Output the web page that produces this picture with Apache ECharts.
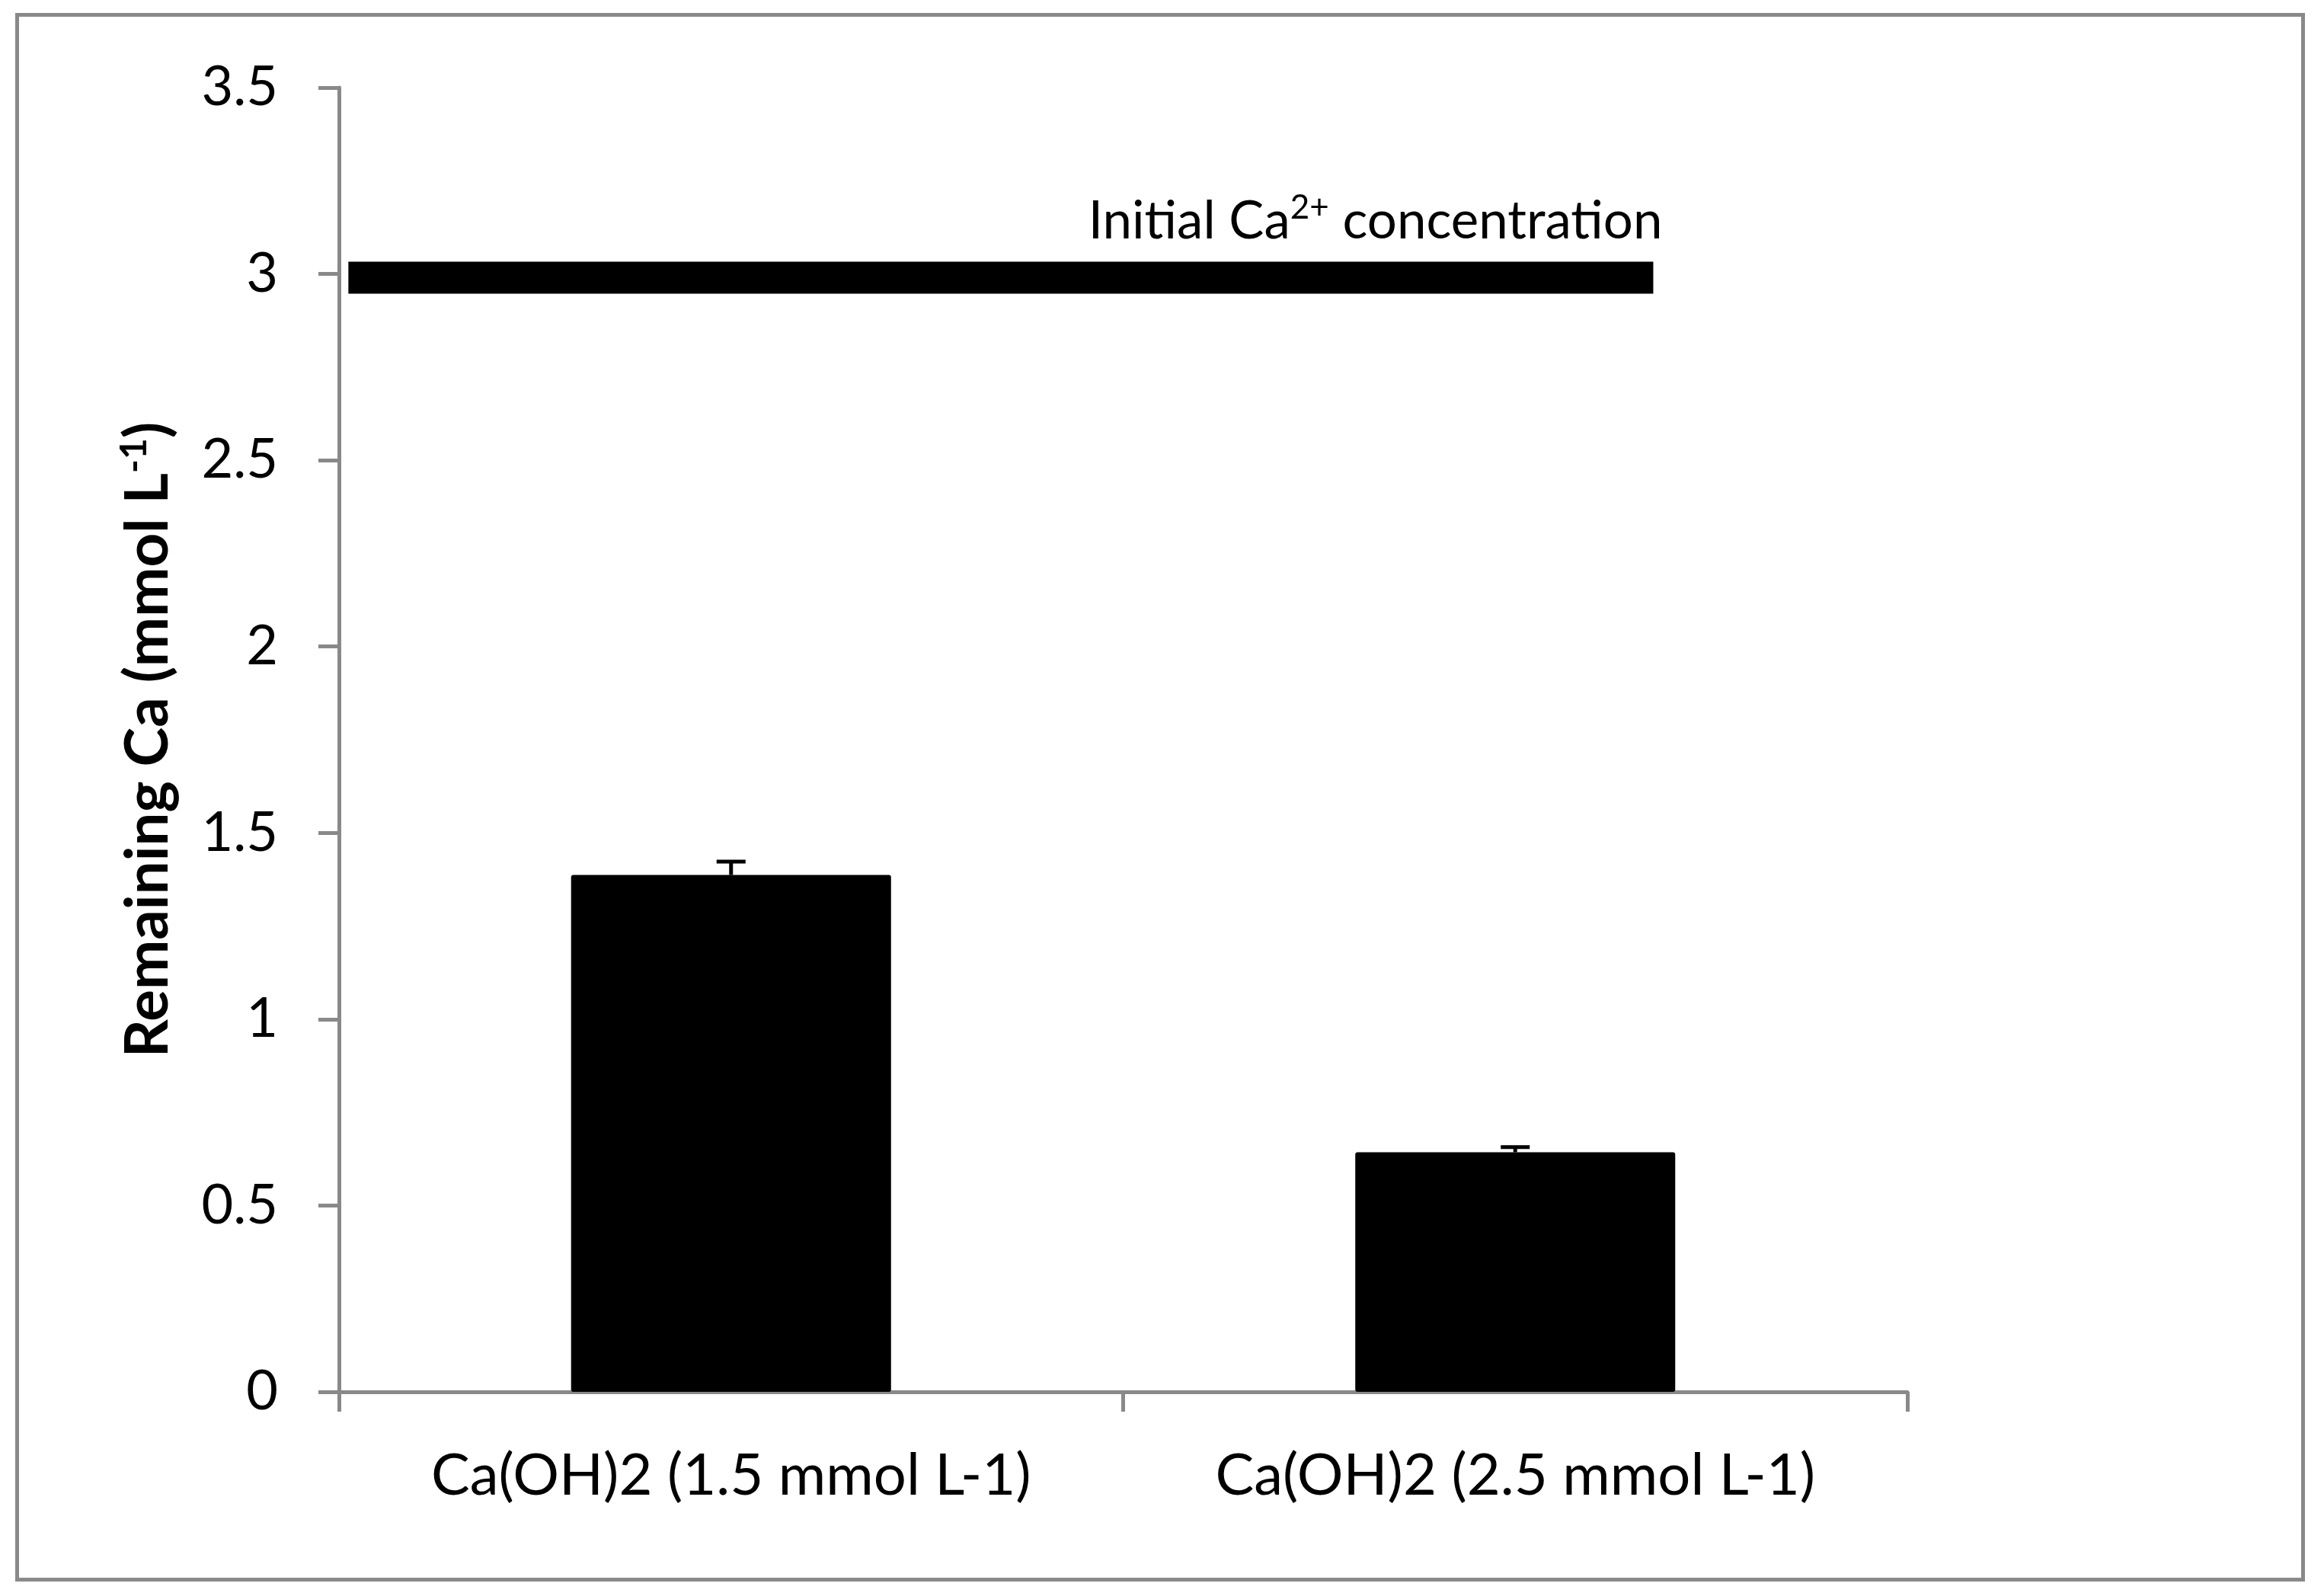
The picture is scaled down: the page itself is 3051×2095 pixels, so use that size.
<!DOCTYPE html>
<html>
<head>
<meta charset="utf-8">
<script src="https://cdn.jsdelivr.net/npm/echarts@6/dist/echarts.min.js"></script>
<style>
html,body{margin:0;padding:0;background:#fff;}
#chart{width:3051px;height:2095px;}
</style>
</head>
<body>
<div id="chart"></div>
<script>
var categories = ['Ca(OH)2 (1.5 mmol L-1)', 'Ca(OH)2 (2.5 mmol L-1)'];
var remainingCa = [1.387, 0.643];
var errorPlus = [0.036, 0.014];
var initialLineX = [0.006, 0.838];
var initialLineY = [2.99, 2.99];
var yMin = 0, yMax = 3.5, yStep = 0.5;

var FONT = 'Lato';
var GRAY = '#898989';

var chart = echarts.init(document.getElementById('chart'), null, {renderer: 'canvas'});

var errData = categories.map(function (c, i) { return [i, remainingCa[i], remainingCa[i] + errorPlus[i]]; });
var lineData = initialLineX.map(function (x, i) { return [x, initialLineY[i]]; });

var option = {
  animation: false,
  backgroundColor: '#fff',
  grid: {left: 445, right: 547, top: 115, bottom: 268, containLabel: false},
  xAxis: [{
    type: 'category',
    data: categories,
    boundaryGap: true,
    axisLine: {show: true, lineStyle: {color: GRAY, width: 5}},
    axisTick: {show: true, length: 26, lineStyle: {color: GRAY, width: 5}},
    axisLabel: {color: '#000', fontFamily: FONT, fontSize: 76, margin: 72},
    splitLine: {show: false}
  }, {
    type: 'value', min: 0, max: 1, show: false
  }],
  yAxis: {
    type: 'value',
    min: yMin, max: yMax, interval: yStep,
    axisLine: {show: true, lineStyle: {color: GRAY, width: 5}},
    axisTick: {show: true, length: 27, lineStyle: {color: GRAY, width: 5}},
    axisLabel: {color: '#000', fontFamily: FONT, fontSize: 72, margin: 80},
    splitLine: {show: false},
    name: '{b|Remaining Ca (mmol L}{s|-1}{b|)}',
    nameLocation: 'middle',
    nameRotate: 90,
    nameGap: 208,
    nameTextStyle: {
      rich: {
        b: {fontFamily: FONT, fontWeight: 'bold', fontSize: 78, color: '#000', lineHeight: 84},
        s: {fontFamily: FONT, fontWeight: 'bold', fontSize: 48, color: '#000', lineHeight: 56, verticalAlign: 'top'}
      }
    }
  },
  series: [{
    type: 'bar',
    data: remainingCa,
    barWidth: '40.8%',
    itemStyle: {color: '#000', borderRadius: 3},
    z: 2
  }, {
    type: 'custom',
    data: errData,
    z: 3,
    renderItem: function (params, api) {
      var top = api.coord([api.value(0), api.value(2)]);
      var base = api.coord([api.value(0), api.value(1)]);
      var hw = 19;
      var st = {stroke: '#000', lineWidth: 5};
      return {type: 'group', children: [
        {type: 'line', shape: {x1: top[0], y1: top[1], x2: base[0], y2: base[1]}, style: st},
        {type: 'line', shape: {x1: top[0] - hw, y1: top[1], x2: top[0] + hw, y2: top[1]}, style: st}
      ]};
    }
  }, {
    type: 'line',
    xAxisIndex: 1,
    data: lineData,
    symbol: 'none',
    lineStyle: {color: '#000', width: 42, cap: 'butt'},
    z: 4,
    endLabel: {
      show: true,
      formatter: '{a|Initial Ca}{s|2+}{a| concentration}',
      align: 'right',
      verticalAlign: 'middle',
      distance: 0,
      offset: [12, -74],
      rich: {
        a: {fontFamily: FONT, fontSize: 69, color: '#000', lineHeight: 80},
        s: {fontFamily: FONT, fontSize: 44, color: '#000', lineHeight: 56, verticalAlign: 'top'}
      }
    }
  }],
  graphic: [{
    type: 'rect',
    shape: {x: 22.5, y: 19.5, width: 3001, height: 2054},
    style: {fill: null, stroke: GRAY, lineWidth: 5},
    silent: true,
    z: -10
  }]
};
chart.setOption(option);
</script>
</body>
</html>
